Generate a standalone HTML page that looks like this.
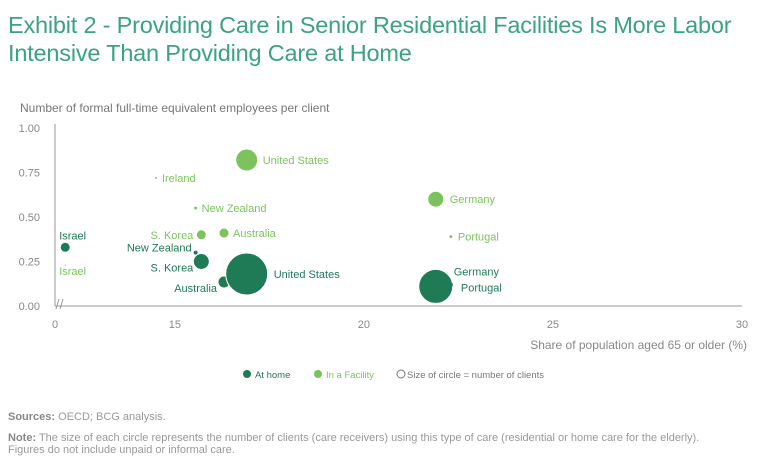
<!DOCTYPE html>
<html><head><meta charset="utf-8"><style>
body{margin:0;width:768px;height:467px;background:#fff;font-family:"Liberation Sans",sans-serif;overflow:hidden;position:relative}
.t{position:absolute;left:8px;top:11px;font-size:23.5px;line-height:28px;color:#3aa37f;letter-spacing:-0.2px}
.foot{position:absolute;left:8px;font-size:11px;color:#999;line-height:12px}
.foot b{color:#888}
</style></head><body>
<div class="t">Exhibit 2 - Providing Care in Senior Residential Facilities Is More Labor<br>Intensive Than Providing Care at Home</div>
<svg id="c" width="768" height="467" style="position:absolute;left:0;top:0"></svg>
<div class="foot" style="top:411px"><b>Sources:</b> OECD; BCG analysis.</div>
<div class="foot" style="top:432px"><b>Note:</b> The size of each circle represents the number of clients (care receivers) using this type of care (residential or home care for the elderly).<br>Figures do not include unpaid or informal care.</div>
<script>
const homeNames=["Israel","New Zealand","S. Korea","Australia","United States","Germany","Portugal"];
const homeX=[12.1,15.55,15.7,16.3,16.9,21.9,22.3];
const homeY=[0.33,0.30,0.25,0.135,0.18,0.11,0.12];
const homeSize=[25,4,64,36,441,289,4];
const facNames=["Israel","Ireland","New Zealand","S. Korea","Australia","United States","Germany","Portugal"];
const facX=[12.1,14.5,15.55,15.7,16.3,16.9,21.9,22.3];
const facY=[0.23,0.72,0.55,0.40,0.41,0.82,0.60,0.39];
const facSize=[0.3,1,2,25,25,121,64,2];
const xTicks=[11.83,15,20,25,30];
const xTickLabels=["0","15","20","25","30"];
const yTicks=[0,0.25,0.5,0.75,1];
const yTickLabels=["0.00","0.25","0.50","0.75","1.00"];
// label placement (styling)
const homeLab=[[-6,-8,"start"],[-4,-1,"end"],[-8,10,"end"],[-7,10,"end"],[27,4,"start"],[18,-11,"start"],[10,7,"start"]];
const facLab=[[-6,10,"start"],[6,4,"start"],[6,4,"start"],[-8,4,"end"],[9,4,"start"],[16,4,"start"],[14,4,"start"],[7,4,"start"]];
const X0=55,X1=742,Y0=306,Y1=128;
const sx=v=>X0+(v-11.83)/(30-11.83)*(X1-X0);
const sy=v=>Y0-v*(Y0-Y1);
const NS="http://www.w3.org/2000/svg",svg=document.getElementById('c');
function mk(t,a,txt){const e=document.createElementNS(NS,t);for(const k in a)e.setAttribute(k,a[k]);if(txt!=null)e.textContent=txt;svg.appendChild(e);return e;}
let e;
e=mk('line',{x1:X0,y1:Y0,x2:X1,y2:Y0,stroke:'#999','stroke-width':1});


e=mk('line',{x1:X0,y1:Y1-4,x2:X0,y2:Y0,stroke:'#999','stroke-width':1});


e=mk('path',{d:'M56,309 L59,299 M60,309 L63,299',stroke:'#999',fill:'none'});


xTicks.forEach((v,i)=>{e=mk('text',{x:sx(v),y:328,'text-anchor':'middle','font-size':11,fill:'#888'},xTickLabels[i]);

});
yTicks.forEach((v,i)=>{e=mk('text',{x:40,y:sy(v)+4,'text-anchor':'end','font-size':11,fill:'#888'},yTickLabels[i]);

});
e=mk('text',{x:20,y:112,'font-size':12,fill:'#777'},'Number of formal full-time equivalent employees per client');


e=mk('text',{x:747,y:349,'text-anchor':'end','font-size':12,fill:'#888'},'Share of population aged 65 or older (%)');


function series(xs,ys,ss,names,lab,col,tag){
 xs.forEach((v,i)=>{const cx=sx(v),cy=sy(ys[i]);
  e=mk('circle',{cx:cx,cy:cy,r:Math.max(0.6,Math.sqrt(ss[i])),fill:col,stroke:'#fff','stroke-width':Math.sqrt(ss[i])>3?1:0});
  
  
  const L=lab[i];
  e=mk('text',{x:cx+L[0],y:cy+L[1],'text-anchor':L[2],'font-size':11,fill:col},names[i]);
  
  });
}
series(facX,facY,facSize,facNames,facLab,'#7cc35e','facility');
series(homeX,homeY,homeSize,homeNames,homeLab,'#1f7a56','home');
e=mk('circle',{cx:247,cy:374,r:4,fill:'#1f7a56'});


e=mk('text',{x:255,y:378,'font-size':9.5,fill:'#1f7a56'},'At home');


e=mk('circle',{cx:318,cy:374,r:4,fill:'#7cc35e'});


e=mk('text',{x:326,y:378,'font-size':9.5,fill:'#7cc35e'},'In a Facility');


e=mk('circle',{cx:401,cy:374,r:4,fill:'none',stroke:'#777'});


e=mk('text',{x:407,y:378,'font-size':9.5,fill:'#777'},'Size of circle = number of clients');


</script>
</body></html>
